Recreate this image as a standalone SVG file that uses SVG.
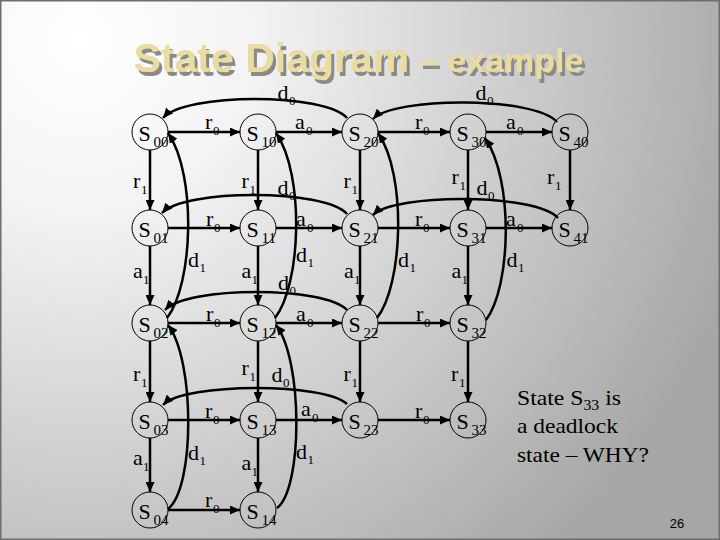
<svg xmlns="http://www.w3.org/2000/svg" width="720" height="540" viewBox="0 0 720 540">
<defs>
<radialGradient id="bg" gradientUnits="userSpaceOnUse" cx="80" cy="40" r="700">
<stop offset="0" stop-color="#ffffff"/>
<stop offset="0.25" stop-color="#f3f3f3"/>
<stop offset="1" stop-color="#a6a6a6"/>
</radialGradient>
<filter id="sh" x="-5%" y="-20%" width="115%" height="150%">
<feDropShadow dx="3" dy="4" stdDeviation="0.4" flood-color="#8a8a8a" flood-opacity="1"/>
</filter>
<marker id="ah" markerUnits="userSpaceOnUse" markerWidth="11" markerHeight="9" refX="10" refY="4.5" orient="auto">
<path d="M0,0 L10,4.5 L0,9 z" fill="#000"/>
</marker>
</defs>
<style>
.st{fill:none;stroke:#000;stroke-width:1}
.e{fill:none;stroke:#000;stroke-width:2.5;marker-end:url(#ah)}
.n{font-family:"Liberation Serif","Times New Roman",serif;font-size:22px;fill:#000}
.ns{font-size:15px}
.l{font-family:"Liberation Serif","Times New Roman",serif;font-size:22px;fill:#000}
.ls{font-size:13px}
.t{font-family:"Liberation Sans",Arial,sans-serif;font-weight:bold;fill:#EADB9E;filter:url(#sh)}
.note{font-family:"Liberation Serif","Times New Roman",serif;font-size:21px;fill:#000}
</style>
<rect x="0" y="0" width="720" height="540" fill="url(#bg)"/>
<rect x="0.75" y="0.75" width="718.5" height="538.5" fill="none" stroke="#6e6e6e" stroke-width="1.5"/>

<g id="title">
<text class="t" x="133.5" y="72" font-size="41">State Diagram</text>
<text class="t" x="419" y="72" font-size="34">– example</text>
</g>

<g id="connectors">
<!-- horizontal -->
<path class="e" d="M168,132 H240"/>
<path class="e" d="M276,132 H342"/>
<path class="e" d="M378,132 H450"/>
<path class="e" d="M486,132 H552"/>
<path class="e" d="M168,228 H240"/>
<path class="e" d="M276,228 H342"/>
<path class="e" d="M378,228 H450"/>
<path class="e" d="M486,228 H552"/>
<path class="e" d="M168,323 H240"/>
<path class="e" d="M276,323 H342"/>
<path class="e" d="M378,323 H450"/>
<path class="e" d="M168,420 H240"/>
<path class="e" d="M276,420 H342"/>
<path class="e" d="M378,420 H450"/>
<path class="e" d="M168,510 H240"/>
<!-- vertical -->
<path class="e" d="M150,150 V210"/>
<path class="e" d="M150,246 V305"/>
<path class="e" d="M150,341 V402"/>
<path class="e" d="M150,438 V492"/>
<path class="e" d="M258,150 V210"/>
<path class="e" d="M258,246 V305"/>
<path class="e" d="M258,341 V402"/>
<path class="e" d="M258,438 V492"/>
<path class="e" d="M360,150 V210"/>
<path class="e" d="M360,246 V305"/>
<path class="e" d="M360,341 V402"/>
<path class="e" d="M468,150 V210"/>
<path class="e" d="M468,246 V305"/>
<path class="e" d="M468,341 V402"/>
<path class="e" d="M570,150 V210"/>
<!-- d0 arcs -->
<path class="e" d="M347,118 C325,92.7 185,92.7 163,118"/>
<path class="e" d="M557,122 C535,96.5 395,96.5 373,119"/>
<path class="e" d="M347,214 C325,188.8 184,188.8 162,213"/>
<path class="e" d="M558,218 C536,193.2 395,193.2 373,215"/>
<path class="e" d="M347,310 C325,286 187,286 165,310"/>
<path class="e" d="M347,404 C325,382.5 185,382.5 163,405"/>
<!-- d1 curves -->
<path class="e" d="M167,318 C193,285 197,175 168,133"/>
<path class="e" d="M275,318 C301,285 305,175 276,133"/>
<path class="e" d="M377,318 C403,285 407,175 378,133"/>
<path class="e" d="M486,320 C511,287 514,180 485,138"/>
<path class="e" d="M168,509 C195,488 195,360 168,325"/>
<path class="e" d="M277,508 C303,488 303,360 276,325"/>
</g>

<g id="S00"><circle class="st" cx="150" cy="132" r="18"/><text class="n" x="138.5" y="141">S<tspan class="ns" x="153.5" y="147">00</tspan></text></g>
<g id="S10"><circle class="st" cx="258" cy="132" r="18"/><text class="n" x="246.5" y="141">S<tspan class="ns" x="261.5" y="147">10</tspan></text></g>
<g id="S20"><circle class="st" cx="360" cy="132" r="18"/><text class="n" x="348.5" y="141">S<tspan class="ns" x="363.5" y="147">20</tspan></text></g>
<g id="S30"><circle class="st" cx="468" cy="132" r="18"/><text class="n" x="456.5" y="141">S<tspan class="ns" x="471.5" y="147">30</tspan></text></g>
<g id="S40"><circle class="st" cx="570" cy="132" r="18"/><text class="n" x="558.5" y="141">S<tspan class="ns" x="573.5" y="147">40</tspan></text></g>

<g id="S01"><circle class="st" cx="150" cy="228" r="18"/><text class="n" x="138.5" y="237">S<tspan class="ns" x="153.5" y="243">01</tspan></text></g>
<g id="S11"><circle class="st" cx="258" cy="228" r="18"/><text class="n" x="246.5" y="237">S<tspan class="ns" x="261.5" y="243">11</tspan></text></g>
<g id="S21"><circle class="st" cx="360" cy="228" r="18"/><text class="n" x="348.5" y="237">S<tspan class="ns" x="363.5" y="243">21</tspan></text></g>
<g id="S31"><circle class="st" cx="468" cy="228" r="18"/><text class="n" x="456.5" y="237">S<tspan class="ns" x="471.5" y="243">31</tspan></text></g>
<g id="S41"><circle class="st" cx="570" cy="228" r="18"/><text class="n" x="558.5" y="237">S<tspan class="ns" x="573.5" y="243">41</tspan></text></g>

<g id="S02"><circle class="st" cx="150" cy="323" r="18"/><text class="n" x="138.5" y="332">S<tspan class="ns" x="153.5" y="338">02</tspan></text></g>
<g id="S12"><circle class="st" cx="258" cy="323" r="18"/><text class="n" x="246.5" y="332">S<tspan class="ns" x="261.5" y="338">12</tspan></text></g>
<g id="S22"><circle class="st" cx="360" cy="323" r="18"/><text class="n" x="348.5" y="332">S<tspan class="ns" x="363.5" y="338">22</tspan></text></g>
<g id="S32"><circle class="st" cx="468" cy="323" r="18"/><text class="n" x="456.5" y="332">S<tspan class="ns" x="471.5" y="338">32</tspan></text></g>

<g id="S03"><circle class="st" cx="150" cy="420" r="18"/><text class="n" x="138.5" y="429">S<tspan class="ns" x="153.5" y="435">03</tspan></text></g>
<g id="S13"><circle class="st" cx="258" cy="420" r="18"/><text class="n" x="246.5" y="429">S<tspan class="ns" x="261.5" y="435">13</tspan></text></g>
<g id="S23"><circle class="st" cx="360" cy="420" r="18"/><text class="n" x="348.5" y="429">S<tspan class="ns" x="363.5" y="435">23</tspan></text></g>
<g id="S33"><circle class="st" cx="468" cy="420" r="18"/><text class="n" x="456.5" y="429">S<tspan class="ns" x="471.5" y="435">33</tspan></text></g>

<g id="S04"><circle class="st" cx="150" cy="510" r="18"/><text class="n" x="138.5" y="519">S<tspan class="ns" x="153.5" y="525">04</tspan></text></g>
<g id="S14"><circle class="st" cx="258" cy="510" r="18"/><text class="n" x="246.5" y="519">S<tspan class="ns" x="261.5" y="525">14</tspan></text></g>

<g id="labels">
<!-- horizontal r0 / a0 -->
<text class="l" x="205" y="129">r<tspan class="ls" x="213" y="135">0</tspan></text>
<text class="l" x="295" y="129">a<tspan class="ls" x="306" y="135">0</tspan></text>
<text class="l" x="415" y="129">r<tspan class="ls" x="423" y="135">0</tspan></text>
<text class="l" x="506" y="129">a<tspan class="ls" x="517" y="135">0</tspan></text>
<text class="l" x="206" y="226">r<tspan class="ls" x="214" y="232">0</tspan></text>
<text class="l" x="296" y="226">a<tspan class="ls" x="307" y="232">0</tspan></text>
<text class="l" x="415" y="226">r<tspan class="ls" x="423" y="232">0</tspan></text>
<text class="l" x="506" y="226">a<tspan class="ls" x="517" y="232">0</tspan></text>
<text class="l" x="206" y="321">r<tspan class="ls" x="214" y="327">0</tspan></text>
<text class="l" x="296" y="321">a<tspan class="ls" x="307" y="327">0</tspan></text>
<text class="l" x="416" y="321">r<tspan class="ls" x="424" y="327">0</tspan></text>
<text class="l" x="205" y="418">r<tspan class="ls" x="213" y="424">0</tspan></text>
<text class="l" x="301" y="416">a<tspan class="ls" x="312" y="422">0</tspan></text>
<text class="l" x="415" y="418">r<tspan class="ls" x="423" y="424">0</tspan></text>
<text class="l" x="205" y="507">r<tspan class="ls" x="213" y="513">0</tspan></text>
<!-- vertical r1 / a1 -->
<text class="l" x="133" y="188">r<tspan class="ls" x="141" y="194">1</tspan></text>
<text class="l" x="133" y="278">a<tspan class="ls" x="143" y="284">1</tspan></text>
<text class="l" x="133" y="381">r<tspan class="ls" x="141" y="387">1</tspan></text>
<text class="l" x="133" y="465">a<tspan class="ls" x="143" y="471">1</tspan></text>
<text class="l" x="241.5" y="188">r<tspan class="ls" x="249.5" y="194">1</tspan></text>
<text class="l" x="241.5" y="278">a<tspan class="ls" x="251.5" y="284">1</tspan></text>
<text class="l" x="241.5" y="375">r<tspan class="ls" x="249.5" y="381">1</tspan></text>
<text class="l" x="241.5" y="470">a<tspan class="ls" x="251.5" y="476">1</tspan></text>
<text class="l" x="343.5" y="188">r<tspan class="ls" x="351.5" y="194">1</tspan></text>
<text class="l" x="344" y="278">a<tspan class="ls" x="354" y="284">1</tspan></text>
<text class="l" x="343.5" y="381">r<tspan class="ls" x="351.5" y="387">1</tspan></text>
<text class="l" x="451.5" y="184">r<tspan class="ls" x="459.5" y="190">1</tspan></text>
<text class="l" x="451.5" y="278">a<tspan class="ls" x="461.5" y="284">1</tspan></text>
<text class="l" x="451" y="381">r<tspan class="ls" x="459" y="387">1</tspan></text>
<text class="l" x="547" y="184">r<tspan class="ls" x="555" y="190">1</tspan></text>
<!-- d0 -->
<text class="l" x="277.5" y="100">d<tspan class="ls" x="289" y="105">0</tspan></text>
<text class="l" x="475.5" y="100">d<tspan class="ls" x="487" y="105">0</tspan></text>
<text class="l" x="277.5" y="195">d<tspan class="ls" x="289" y="200">0</tspan></text>
<text class="l" x="476.5" y="195">d<tspan class="ls" x="488" y="200">0</tspan></text>
<text class="l" x="278" y="290">d<tspan class="ls" x="289.5" y="295">0</tspan></text>
<text class="l" x="271.5" y="381.5">d<tspan class="ls" x="283" y="386.5">0</tspan></text>
<!-- d1 -->
<text class="l" x="188" y="267">d<tspan class="ls" x="199.5" y="272">1</tspan></text>
<text class="l" x="296" y="262">d<tspan class="ls" x="307.5" y="267">1</tspan></text>
<text class="l" x="398" y="267">d<tspan class="ls" x="409.5" y="272">1</tspan></text>
<text class="l" x="506.5" y="267">d<tspan class="ls" x="518" y="272">1</tspan></text>
<text class="l" x="188" y="460">d<tspan class="ls" x="199.5" y="465">1</tspan></text>
<text class="l" x="296" y="459">d<tspan class="ls" x="307.5" y="464">1</tspan></text>
</g>

<g id="note">
<text class="note" x="517" y="405" textLength="104" lengthAdjust="spacingAndGlyphs">State S<tspan font-size="14" dy="5">33</tspan><tspan dy="-5"> is</tspan></text>
<text class="note" x="517" y="433" textLength="101" lengthAdjust="spacingAndGlyphs">a deadlock</text>
<text class="note" x="517" y="461.5" textLength="132" lengthAdjust="spacingAndGlyphs">state – WHY?</text>
</g>
<text x="677" y="528" text-anchor="middle" font-family="Liberation Sans, Arial, sans-serif" font-size="13" fill="#000">26</text>
</svg>
